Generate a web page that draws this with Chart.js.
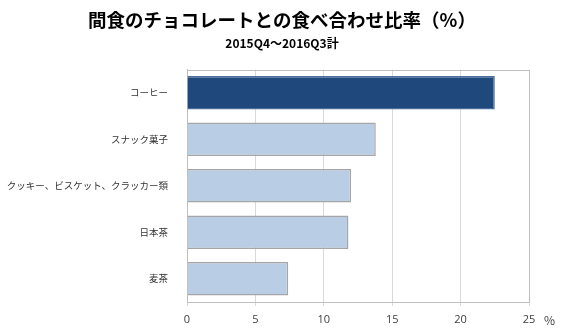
<!DOCTYPE html>
<html>
<head>
<meta charset="utf-8">
<script src="https://cdn.jsdelivr.net/npm/chart.js@4.4.1/dist/chart.umd.min.js"></script>
<style>
  html, body { margin: 0; padding: 0; background: #fff; }
  #wrap { width: 564px; height: 332px; position: relative; }
</style>
</head>
<body>
<div id="wrap"><canvas id="myChart" width="564" height="332"></canvas></div>
<script>
// data
var categories = ["コーヒー", "スナック菓子", "クッキー、ビスケット、クラッカー類", "日本茶", "麦茶"];
var shares = [22.5, 13.8, 12.0, 11.8, 7.4];
var xTicks = [0, 5, 10, 15, 20, 25];
var titleText = "間食のチョコレートとの食べ合わせ比率（%）";
var subtitleText = "2015Q4～2016Q3計";
var unitText = "%";

var jp = "'Noto Sans CJK JP', 'Noto Sans', sans-serif";

// frame round the plot area + the "%" unit at the right end of the x axis
var framePlugin = {
  id: "frame",
  beforeDatasetsDraw: function (chart) {
    var a = chart.chartArea, ctx = chart.ctx;
    ctx.save();
    ctx.strokeStyle = "#BFBFBF";
    ctx.lineWidth = 1;
    ctx.strokeRect(Math.round(a.left) + 0.5, Math.round(a.top) + 0.5,
      Math.round(a.right - a.left), Math.round(a.bottom - a.top));
    ctx.restore();
  },
  afterDraw: function (chart) {
    var a = chart.chartArea, ctx = chart.ctx;
    ctx.save();
    ctx.fillStyle = "#404040";
    ctx.font = "12px " + jp;
    ctx.textAlign = "left";
    ctx.textBaseline = "middle";
    ctx.fillText(unitText, a.right + 15, a.bottom + 18);
    ctx.restore();
  }
};

var ctx = document.getElementById("myChart").getContext("2d");
var myChart = new Chart(ctx, {
  type: "bar",
  data: {
    labels: categories,
    datasets: [{
      data: shares,
      backgroundColor: ["#1F497D", "#B9CDE5", "#B9CDE5", "#B9CDE5", "#B9CDE5"],
      borderColor: ["#4A6D9A", "#A6A6A6", "#A6A6A6", "#A6A6A6", "#A6A6A6"],
      borderWidth: 1.5,
      categoryPercentage: 0.72,
      barPercentage: 1.0
    }]
  },
  plugins: [framePlugin],
  options: {
    indexAxis: "y",
    responsive: false,
    animation: false,
    devicePixelRatio: 1,
    layout: { padding: 0 },
    plugins: {
      legend: { display: false },
      tooltip: { enabled: false },
      title: {
        display: true,
        text: titleText,
        color: "#000",
        font: { family: jp, size: 18.5, weight: "bold" },
        padding: { top: 9, bottom: 5 }
      },
      subtitle: {
        display: true,
        text: subtitleText,
        color: "#000",
        font: { family: jp, size: 12, weight: "bold" },
        padding: { top: 0, bottom: 19 }
      }
    },
    scales: {
      x: {
        min: 0,
        max: 25,
        afterBuildTicks: function (s) { s.ticks = xTicks.map(function (v) { return { value: v }; }); },
        afterFit: function (s) { s.height = 30; },
        grid: {
          color: "#D9D9D9",
          lineWidth: 1,
          drawTicks: true,
          tickLength: 4
        },
        border: { display: true, color: "#BFBFBF" },
        ticks: {
          color: "#404040",
          font: { family: "'Open Sans', sans-serif", size: 11 },
          padding: 7,
          maxRotation: 0,
          autoSkip: false
        }
      },
      y: {
        afterFit: function (s) { s.width = 187; },
        grid: { display: false },
        border: { display: true, color: "#BFBFBF" },
        ticks: {
          color: "#333333",
          font: { family: jp, size: 9.5 },
          padding: 11,
          autoSkip: false
        }
      },
      // empty right-hand gutter so the plot ends at the same place as the reference
      gutter: {
        type: "linear",
        position: "right",
        afterFit: function (s) { s.width = 35; },
        grid: { display: false },
        border: { display: false },
        ticks: { display: false }
      }
    }
  }
});
</script>
</body>
</html>
